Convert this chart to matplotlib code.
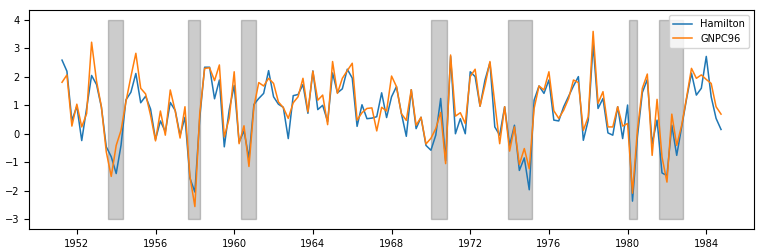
import numpy as np
import pandas as pd
import matplotlib
matplotlib.use("Agg")
import matplotlib.pyplot as plt

# quarterly growth, 1951Q2 - 1984Q4
hamilton = [2.59, 2.20, 0.46, 0.97, -0.24, 0.90, 2.05, 1.73, 0.94, -0.46,
            -0.81, -1.40, -0.40, 1.19, 1.46, 2.12, 1.09, 1.32, 0.87, -0.20,
            0.45, 0.07, 1.10, 0.82, -0.06, 0.58, -1.56, -2.05, 0.54, 2.34,
            2.34, 1.23, 1.89, -0.46, 0.85, 1.70, -0.29, 0.10, -0.86, 1.03,
            1.24, 1.42, 2.22, 1.30, 1.04, 0.93, -0.17, 1.34, 1.38, 1.73,
            0.72, 2.21, 0.85, 1.00, 0.43, 2.14, 1.44, 1.58, 2.27, 1.96,
            0.26, 1.02, 0.53, 0.55, 0.60, 1.44, 0.57, 1.30, 1.66, 0.72,
            -0.09, 1.55, 0.18, 0.58, -0.41, -0.58, -0.05, 1.24, -0.95, 2.72,
            0.00, 0.53, 0.00, 2.18, 2.01, 0.97, 1.89, 2.50, 0.24, -0.05,
            0.95, -0.41, 0.30, -1.29, -0.85, -1.97, 1.18, 1.68, 1.42, 1.89,
            0.48, 0.45, 0.95, 1.32, 1.68, 2.01, -0.23, 0.48, 3.15, 0.89,
            1.24, 0.03, -0.05, 0.95, -0.17, 1.01, -2.37, -0.11, 1.45, 1.91,
            -0.35, 0.48, -1.38, -1.47, 0.30, -0.76, 0.24, 1.24, 2.13, 1.36,
            1.60, 2.72, 1.30, 0.54, 0.15]

gnpc96 = [1.81, 2.07, 0.27, 1.04, 0.24, 0.71, 3.22, 1.85, 0.95, -0.64,
          -1.50, -0.41, 0.12, 1.13, 2.01, 2.83, 1.60, 1.40, 0.65, -0.25,
          0.80, -0.05, 1.54, 0.80, -0.15, 0.95, -1.50, -2.56, 0.70, 2.30,
          2.32, 1.87, 2.42, -0.11, 0.55, 2.18, -0.35, 0.28, -1.15, 0.95,
          1.80, 1.68, 1.95, 1.77, 1.12, 0.92, 0.54, 1.09, 1.30, 1.95,
          0.77, 2.20, 1.18, 1.36, 0.32, 2.54, 1.42, 1.95, 2.22, 2.48,
          0.48, 0.74, 0.89, 0.91, 0.10, 0.93, 0.80, 2.03, 1.66, 0.71,
          0.47, 1.55, 0.30, 0.58, -0.36, -0.16, 0.18, 0.75, -1.05, 2.77,
          0.62, 0.74, 0.36, 2.01, 2.27, 0.97, 1.71, 2.54, 1.07, -0.35,
          0.95, -0.61, 0.24, -1.08, -0.52, -1.23, 0.89, 1.68, 1.54, 2.18,
          0.81, 0.54, 0.83, 1.24, 1.89, 1.80, 0.12, 0.60, 3.60, 1.07,
          1.48, 0.24, 0.24, 0.95, 0.27, 0.36, -2.09, 0.12, 1.60, 2.10,
          -0.76, 1.21, -0.82, -1.70, 0.69, -0.41, 0.30, 1.28, 2.30, 1.95,
          2.07, 1.91, 1.77, 0.95, 0.69]

# NBER recession months (first and last month flagged)
recessions = [("1953-08", "1954-05"), ("1957-09", "1958-04"),
              ("1960-05", "1961-02"), ("1970-01", "1970-11"),
              ("1973-12", "1975-03"), ("1980-02", "1980-07"),
              ("1981-08", "1982-11")]

dates = pd.date_range("1951-04-01", periods=len(hamilton), freq="QS")
months = pd.date_range("1951-04-01", "1984-10-01", freq="MS")
usrec = np.zeros(len(months), dtype=bool)
for start, end in recessions:
    usrec |= (months >= pd.Timestamp(start)) & (months <= pd.Timestamp(end))

plt.rcParams["font.size"] = 7.1
fig = plt.figure(figsize=(7.65, 2.52), dpi=100)
ax = fig.add_axes([0.038, 0.0913, 0.9476, 0.8687])

ax.fill_between(months, -3, 4, where=usrec, color="k", alpha=0.2)
ax.plot(dates, hamilton, label="Hamilton", lw=1.1)
ax.plot(dates, gnpc96, label="GNPC96", lw=1.1)
ax.legend(loc="upper right")

fig.savefig("out.png", dpi=100)
